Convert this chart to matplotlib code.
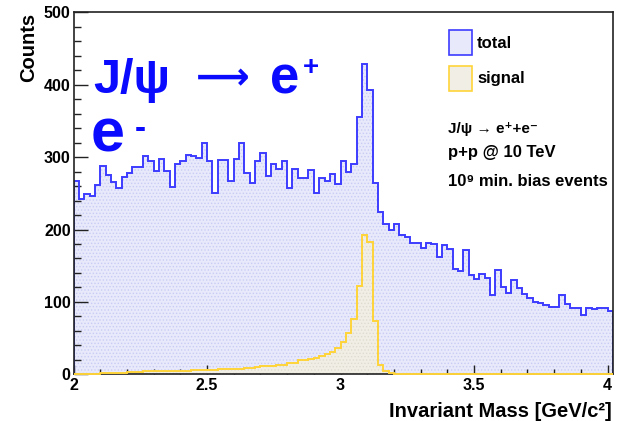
import matplotlib
matplotlib.use("Agg")
import matplotlib.pyplot as plt
import numpy as np
from matplotlib.patches import Rectangle
from matplotlib.ticker import MultipleLocator, FuncFormatter

# histogram binning (GeV): 101 bins of 0.02 starting at 2.0
mass_lo = 2.0
bin_width = 0.02

total_counts = [
    267, 242, 249, 246, 262, 288, 275, 265, 258, 272,
    278, 287, 287, 302, 295, 281, 298, 281, 259, 291,
    295, 303, 301, 299, 320, 294, 251, 296, 296, 267,
    297, 319, 278, 264, 294, 305, 274, 291, 283, 295,
    257, 283, 271, 271, 282, 251, 271, 267, 277, 263,
    294, 280, 291, 355, 429, 393, 264, 224, 207, 199,
    207, 192, 189, 182, 181, 175, 181, 180, 162, 179,
    173, 145, 142, 172, 137, 131, 139, 133, 110, 144,
    120, 112, 130, 119, 111, 106, 100, 99, 96, 93,
    93, 110, 97, 92, 92, 82, 91, 90, 91, 92,
    88,
]

signal_counts = [
    1, 1, 1, 1, 1, 2, 2, 2, 2, 2,
    3, 3, 3, 4, 4, 4, 4, 4, 4, 5,
    5, 5, 6, 6, 6, 6, 6, 7, 7, 7,
    8, 8, 9, 9, 10, 11, 11, 12, 13, 13,
    15, 15, 20, 20, 21, 23, 25, 28, 31, 36,
    44, 57, 76, 122, 192, 183, 74, 13, 4, 2,
    1, 1, 0, 0, 0, 0, 0, 0, 0, 0,
    0, 0, 0, 0, 0, 0, 0, 0, 0, 0,
    0, 0, 0, 0, 0, 0, 0, 0, 0, 0,
    0, 0, 0, 0, 0, 0, 0, 0, 0, 0,
    0,
]

legend_labels = ["total", "signal"]
info_lines = ["J/ψ → e⁺+e⁻", "p+p @ 10 TeV", "10⁹ min. bias events"]

BLUE_LINE = "#3c3cff"
BLUE_FILL = "#e8e9fb"
BLUE_HATCH = "#c9ccf3"
YELLOW_LINE = "#ffd43a"
YELLOW_FILL = "#f1eee6"
YELLOW_HATCH = "#dfdbcf"

plt.rcParams["font.family"] = ["Liberation Sans", "DejaVu Sans"]
plt.rcParams["font.weight"] = "bold"
plt.rcParams["hatch.linewidth"] = 0.6

W, H = 620, 421


def px(x, y):
    # pixel position (from top-left) -> figure fraction
    return x / W, 1 - y / H


fig = plt.figure(figsize=(W / 100, H / 100), dpi=100)
ax = fig.add_axes([73.5 / W, 1 - 374.3 / H, 539.4 / W, 362 / H])

edges = mass_lo + bin_width * np.arange(len(total_counts) + 1)

# --- histograms ---
ax.stairs(total_counts, edges, fill=True, facecolor=BLUE_FILL,
          edgecolor=BLUE_HATCH, hatch=".....", linewidth=0, zorder=1)
ax.stairs(total_counts, edges, color=BLUE_LINE, linewidth=1.4, zorder=2)
ax.stairs(signal_counts, edges, fill=True, facecolor=YELLOW_FILL,
          edgecolor=YELLOW_HATCH, hatch=".....", linewidth=0, zorder=2.1)
ax.stairs(signal_counts, edges, color=YELLOW_LINE, linewidth=1.4,
          zorder=3, clip_on=False)

ax.set_xlim(mass_lo, edges[-1])
ax.set_ylim(0, 500)

# --- axes styling (ROOT look) ---
ax.xaxis.set_major_locator(MultipleLocator(0.5))
ax.xaxis.set_minor_locator(MultipleLocator(0.1))
ax.yaxis.set_major_locator(MultipleLocator(100))
ax.yaxis.set_minor_locator(MultipleLocator(20))
ax.xaxis.set_major_formatter(FuncFormatter(lambda v, p: f"{v:g}"))

ax.tick_params(axis="both", which="both", direction="in", top=False,
               right=False, colors="#222222", labelsize=11.5, width=1.0)
ax.tick_params(axis="x", which="major", length=6.5, pad=3)
ax.tick_params(axis="x", which="minor", length=3.5)
ax.tick_params(axis="y", which="major", length=10, pad=2)
ax.tick_params(axis="y", which="minor", length=5)
for lab in ax.get_xticklabels() + ax.get_yticklabels():
    lab.set_fontweight("bold")
    lab.set_color("black")

for sp in ax.spines.values():
    sp.set_linewidth(1.2)
    sp.set_color("#222222")

fig.text(*px(612, 417), "Invariant Mass [GeV/c²]", ha="right",
         va="baseline", fontsize=14.5)
fig.text(*px(29, 13), "Counts", rotation=90, ha="center", va="top",
         fontsize=14.5)

# --- big blue annotation ---
blue = "#0a0aff"
fig.text(*px(93, 93), "J/ψ", fontsize=35, color=blue, ha="left",
         va="baseline")
fig.text(*px(196, 79), "⟶", fontsize=27, color=blue, ha="left",
         va="center", family="DejaVu Sans", fontweight="bold")
fig.text(*px(270, 93), "e", fontsize=38, color=blue, ha="left",
         va="baseline")
fig.text(*px(303, 75), "+", fontsize=20, color=blue, ha="left",
         va="baseline")
fig.text(*px(91, 151), "e", fontsize=44, color=blue, ha="left",
         va="baseline")
fig.text(*px(135, 138), "-", fontsize=24, color=blue, ha="left",
         va="baseline")

# --- legend ---
swatches = [(BLUE_FILL, BLUE_LINE, 30), (YELLOW_FILL, YELLOW_LINE, 66)]
for (fc, ec, top), label in zip(swatches, legend_labels):
    x0, y0 = px(449, top + 25)
    fig.add_artist(Rectangle((x0, y0), 23 / W, 25 / H,
                             transform=fig.transFigure, facecolor=fc,
                             edgecolor=ec, linewidth=1.2))
    fig.text(*px(477, top + 13), label, fontsize=12, ha="left",
             va="center")

for line, base in zip(info_lines, [133, 157, 186]):
    fig.text(*px(448, base), line, fontsize=12 if base > 140 else 11,
             ha="left", va="baseline")

fig.savefig("out.png", dpi=100)
